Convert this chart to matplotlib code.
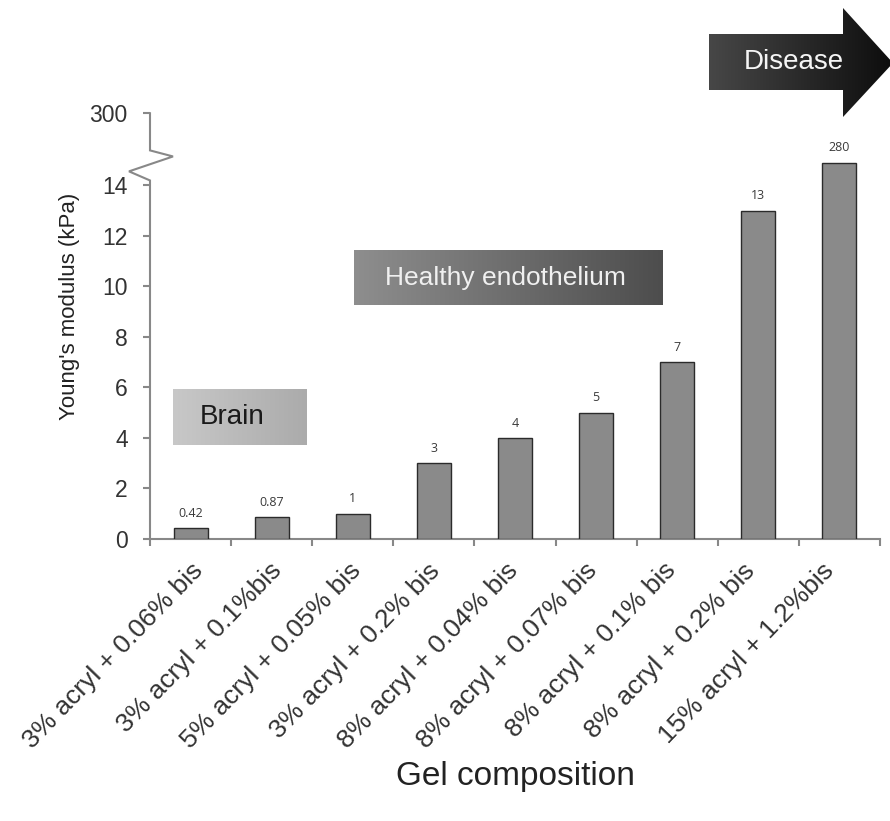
import numpy as np
import matplotlib
matplotlib.use('Agg')
import matplotlib.pyplot as plt
import matplotlib.transforms as mtransforms
from matplotlib.patches import Polygon
from matplotlib.colors import LinearSegmentedColormap

plt.rcParams['font.family'] = ['Liberation Sans', 'DejaVu Sans']

# data
categories = ['3% acryl + 0.06% bis', '3% acryl + 0.1%bis', '5% acryl + 0.05% bis',
              '3% acryl + 0.2% bis', '8% acryl + 0.04% bis', '8% acryl + 0.07% bis',
              '8% acryl + 0.1% bis', '8% acryl + 0.2% bis', '15% acryl + 1.2%bis']
moduli = [0.42, 0.87, 1, 3, 4, 5, 7, 13, 280]
value_labels = ['0.42', '0.87', '1', '3', '4', '5', '7', '13', '280']
y_ticks = [0, 2, 4, 6, 8, 10, 12, 14]
top_label = '300'

# broken axis: values above 14 get squeezed right under the break
CAP = 14.9
TOP = 16.85
heights = np.minimum(moduli, CAP)
x = np.arange(len(categories))

fig = plt.figure(figsize=(8.9, 8.21), dpi=100)
ax = fig.add_axes([150 / 890, (821 - 539) / 821, 730 / 890, 426 / 821])

ax.bar(x, heights, width=0.42, color='#8a8a8a', edgecolor='#2b2b2b', linewidth=1, zorder=3)
for i, (h, lbl) in enumerate(zip(heights, value_labels)):
    ax.annotate(lbl, (i, h), xytext=(0, 6), textcoords='offset points',
                ha='center', va='bottom', fontsize=9, family='Open Sans', color='#3a3a3a')

ax.set_xlim(-0.5, 8.5)
ax.set_ylim(0, TOP + 0.01)

for s in ['top', 'right', 'left']:
    ax.spines[s].set_visible(False)
ax.spines['bottom'].set_color('#888888')
ax.spines['bottom'].set_linewidth(1.5)

# left spine with the zigzag break
ppu = 730 / 9
sp_y = [0, 14.19, 14.55, 15.14, 15.38, TOP]
sp_dx = [0, 0, -21, 23, 0, 0]
ax.plot([-0.5 + d / ppu for d in sp_dx], sp_y, color='#888888', lw=1.5,
        clip_on=False, zorder=4, solid_joinstyle='miter')

ax.set_yticks(y_ticks + [TOP])
ax.set_yticklabels([str(t) for t in y_ticks] + [top_label])
ax.tick_params(axis='y', direction='out', length=5, width=1.5, color='#888888',
               labelsize=16.5, labelcolor='#333333', pad=11)

ax.set_xticks(x)
ax.set_xticks(np.arange(-0.5, 9, 1), minor=True)
ax.set_xticklabels(categories, rotation=46, ha='right', rotation_mode='anchor',
                   fontsize=19, color='#333333')
ax.tick_params(axis='x', which='major', length=0, pad=14)
ax.tick_params(axis='x', which='minor', direction='out', length=5, width=1.5, color='#888888')

# labels in the original sit on a slightly tighter pitch than the bars
for i, t in enumerate(ax.get_xticklabels()):
    shift = mtransforms.ScaledTranslation(-2.3 * i / 100, 0, fig.dpi_scale_trans)
    t.set_transform(t.get_transform() + shift)

# overlay in pixel coordinates for boxes and axis titles
ov = fig.add_axes([0, 0, 1, 1], zorder=5)
ov.patch.set_alpha(0)


def grad_shape(verts, c0, c1):
    poly = Polygon(verts, closed=True, facecolor='none', edgecolor='none')
    ov.add_patch(poly)
    xs = [v[0] for v in verts]
    ys = [v[1] for v in verts]
    cmap = LinearSegmentedColormap.from_list('g', [c0, c1])
    im = ov.imshow(np.linspace(0, 1, 256)[None, :], cmap=cmap, aspect='auto',
                   extent=(min(xs), max(xs), max(ys), min(ys)), interpolation='bilinear')
    im.set_clip_path(poly)


grad_shape([(173, 389), (307, 389), (307, 445), (173, 445)], '#c8c8c8', '#ababab')
grad_shape([(354, 250), (663, 250), (663, 305), (354, 305)], '#8e8e8e', '#4d4d4d')
grad_shape([(709, 34), (843, 34), (843, 8), (893, 63), (843, 117), (843, 90), (709, 90)],
           '#474747', '#0d0d0d')

ov.set_xlim(0, 890)
ov.set_ylim(821, 0)
ov.axis('off')

ov.text(232, 417, 'Brain', fontsize=20, color='#1a1a1a', ha='center', va='center')
ov.text(505, 278, 'Healthy endothelium', fontsize=19, color='#f0f0f0', ha='center', va='center')
ov.text(794, 62, 'Disease', fontsize=20, color='#f5f5f5', ha='center', va='center')
ov.text(70, 306, "Young's modulus (kPa)", fontsize=16, color='#222222',
        rotation=90, ha='center', va='center')
ov.text(515, 776, 'Gel composition', fontsize=24, color='#222222', ha='center', va='center')

fig.savefig('out.png', dpi=100)
